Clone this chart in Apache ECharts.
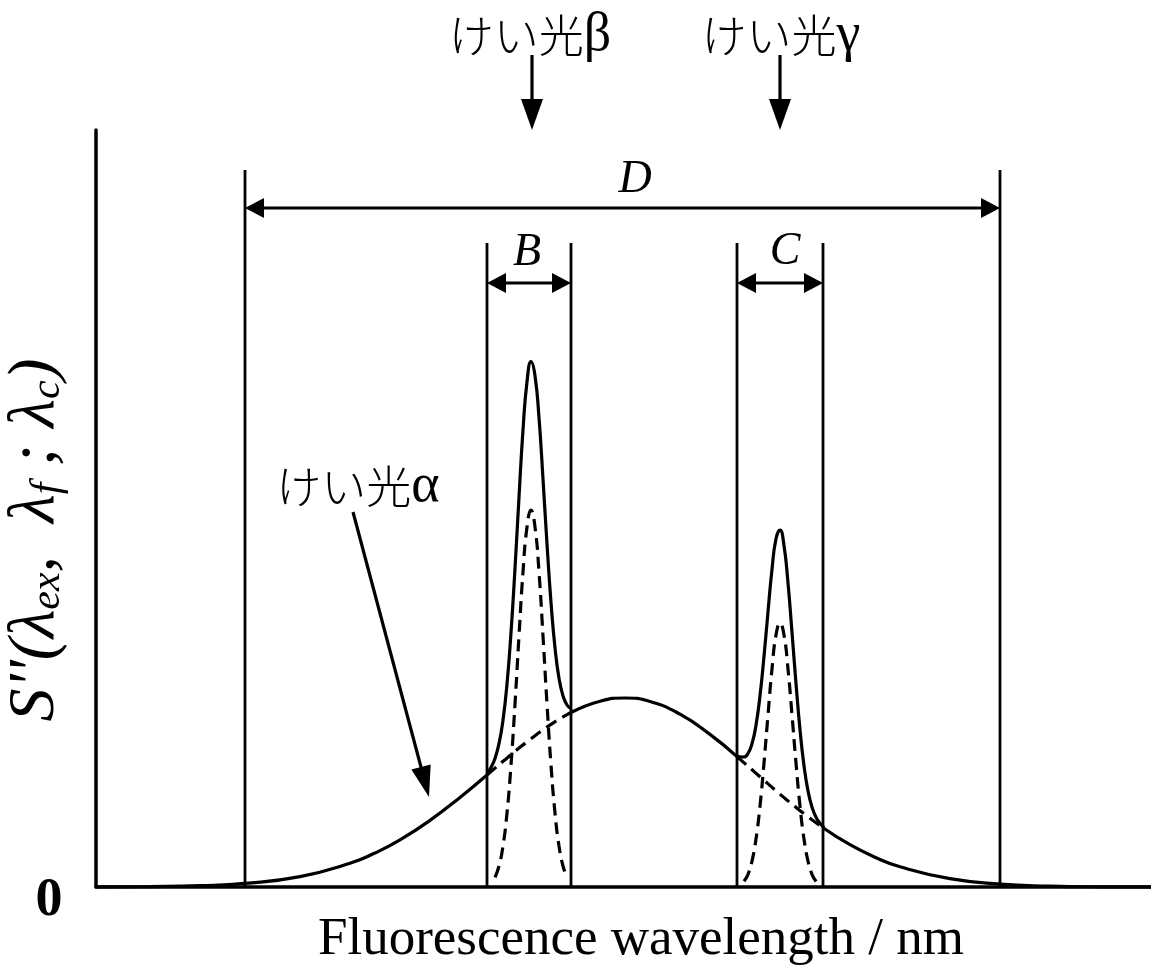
<!DOCTYPE html>
<html>
<head>
<meta charset="utf-8">
<script src="https://cdn.jsdelivr.net/npm/echarts@6/dist/echarts.min.js"></script>
<style>
html, body { margin: 0; padding: 0; background: #fff; }
#chart { width: 1151px; height: 970px; }
</style>
</head>
<body>
<div id="chart"></div>
<script>
// Broad emission band of fluorophore α (abscissa in plot units, ordinate in intensity units)
const alphaX = [0, 54, 104, 149, 204, 254, 279, 304, 334, 364, 391, 399, 407, 415, 423, 431, 439, 447, 455, 463, 471, 475,
  504, 529, 554, 584, 614, 641, 649, 659, 669, 679, 689, 699, 709, 719, 727, 754, 779, 804, 854, 904, 954, 1004, 1055];
const alphaY = [0.1, 0.4, 1.3, 3.6, 10.4, 23.7, 34, 47.1, 66.6, 89.6, 112.0, 118.9, 125.7, 132.3, 138.9, 145.2, 151.3, 157.2, 162.6, 167.7, 172.3, 174.5,
  185.8, 189, 185.5, 172.8, 152.6, 130.4, 123.4, 114.6, 105.8, 97.1, 88.6, 80.4, 72.5, 65.0, 59.3, 42.3, 29.8, 20.2, 8.3, 2.9, 0.9, 0.2, 0.05];

// Narrow band of fluorophore β
const betaX = [399, 403, 407, 411, 415, 419, 423, 427, 431, 435, 439, 443, 447, 451, 455, 459, 463, 467, 471];
const betaY = [9.7, 21, 41, 74, 122, 183, 251, 315, 360, 377, 360, 315, 251, 183, 122, 74, 41, 21, 9.7];

// Narrow band of fluorophore γ
const gammaX = [648, 652, 656, 660, 664, 668, 672, 676, 680, 684, 688, 692, 696, 700, 704, 708, 712, 716, 720, 724];
const gammaY = [5.7, 12.7, 25.9, 48, 81, 124, 172, 218, 252, 264, 252, 218, 172, 124, 81, 48, 25.9, 12.7, 5.7, 2.3];

// Observed spectrum inside window B (α + β)
const sumBX = [391, 395, 399, 403, 407, 411, 415, 419, 423, 427, 431, 435, 439, 443, 447, 451, 455, 459, 463, 467, 471, 475];
const sumBY = [113.6, 119.5, 128.6, 143.3, 166.7, 203, 254.3, 318.6, 389.9, 457.1, 505.2, 525.3, 511.3, 469.3, 408.2, 343,
  284.6, 239.2, 208.7, 191.1, 182, 178.5];

// Observed spectrum inside window C (α + γ)
const sumCX = [640, 644, 648, 652, 656, 660, 664, 668, 672, 676, 680, 684, 688, 692, 696, 700, 704, 708, 712, 716, 720, 724, 728];
const sumCY = [132.2, 130.1, 130, 133.5, 143.2, 161.8, 191.2, 230.7, 275.2, 317.7, 348.3, 356.8, 341.5, 304.1, 254.8, 203.6,
  157.4, 121.2, 96.1, 79.9, 69.9, 63.7, 59.5];

// Integration windows [start, end]
const windowB = [391, 475];
const windowC = [641, 727];
const windowD = [149, 904];

// Text drawn on the figure
const bandPrefix = 'けい光';
const bandLetters = ['α', 'β', 'γ'];
const windowLabels = ['B', 'C', 'D'];
const xTitle = 'Fluorescence wavelength / nm';
const zeroLabel = '0';

// Axis extents
const xMax = 1055;
const yMax = 757;

// Annotation placement (plot units)
const layout = {
  windowTopBC: 644, windowTopD: 717,
  spanBC: 604, spanD: 679,
  labelB: [431, 634], labelC: [689, 635], labelD: [539, 707],
  betaArrowX: 436, gammaArrowX: 684, arrowTail: 832, arrowTip: 757,
  betaLabel: [434, 851], gammaLabel: [685, 851],
  alphaLabel: [262, 400], alphaFrom: [257, 375], alphaTo: [333, 90]
};

const inside = (x, w) => x >= w[0] && x <= w[1];
function pairs(xs, ys, keep) {
  const out = [];
  for (let i = 0; i < xs.length; i++) {
    if (!keep || keep(xs[i])) out.push([xs[i], ys[i]]);
  }
  return out;
}

const solid = { color: '#000', width: 3.2, type: 'solid' };
const dashed = { color: '#000', width: 3.2, type: [12, 7] };

function line(data, style, z) {
  return {
    type: 'line', data: data, smooth: true, showSymbol: false, symbol: 'none',
    lineStyle: style, z: z, silent: true, clip: false
  };
}

const series = [
  // α outside the narrow windows (solid)
  line(pairs(alphaX, alphaY, x => x <= windowB[0]), solid, 5),
  line(pairs(alphaX, alphaY, x => x >= windowB[1] && x <= windowC[0]), solid, 5),
  line(pairs(alphaX, alphaY, x => x >= windowC[1]), solid, 5),
  // α inside the windows (dashed)
  line(pairs(alphaX, alphaY, x => inside(x, windowB)), dashed, 3),
  line(pairs(alphaX, alphaY, x => inside(x, windowC)), dashed, 3),
  // individual narrow bands (dashed)
  line(pairs(betaX, betaY), dashed, 3),
  line(pairs(gammaX, gammaY), dashed, 3),
  // summed spectra in windows (solid)
  line(pairs(sumBX, sumBY), solid, 5),
  line(pairs(sumCX, sumCY), solid, 5)
];

const option = {
  backgroundColor: '#fff',
  animation: false,
  grid: { left: 96, right: 0, top: 130, bottom: 83, containLabel: false },
  xAxis: {
    type: 'value', min: 0, max: xMax,
    axisLine: { show: true, onZero: false, lineStyle: { color: '#000', width: 3.5 } },
    axisTick: { show: false }, axisLabel: { show: false }, splitLine: { show: false }
  },
  yAxis: {
    type: 'value', min: 0, max: yMax,
    axisLine: { show: true, onZero: false, lineStyle: { color: '#000', width: 3.5 } },
    axisTick: { show: false }, axisLabel: { show: false }, splitLine: { show: false }
  },
  series: series
};

const chart = echarts.init(document.getElementById('chart'), null, { renderer: 'canvas' });
chart.setOption(option);

const P = (x, y) => chart.convertToPixel({ gridIndex: 0 }, [x, y]);
const graphics = [];

function seg(a, b, w) {
  graphics.push({
    type: 'line', z: 10, silent: true,
    shape: { x1: a[0], y1: a[1], x2: b[0], y2: b[1] },
    style: { stroke: '#000', lineWidth: w || 2.8 }
  });
}
function head(tip, from, len, half) {
  const dx = tip[0] - from[0], dy = tip[1] - from[1];
  const d = Math.hypot(dx, dy), ux = dx / d, uy = dy / d;
  const bx = tip[0] - ux * len, by = tip[1] - uy * len;
  graphics.push({
    type: 'polygon', z: 11, silent: true,
    shape: { points: [[tip[0], tip[1]], [bx - uy * half, by + ux * half], [bx + uy * half, by - ux * half]] },
    style: { fill: '#000' }
  });
}
function arrow(from, tip, len, half, w) {
  const dx = tip[0] - from[0], dy = tip[1] - from[1];
  const d = Math.hypot(dx, dy);
  const end = [tip[0] - dx / d * (len - 2), tip[1] - dy / d * (len - 2)];
  seg(from, end, w);
  head(tip, from, len, half);
}
function text(pos, str, style, rot) {
  graphics.push({
    type: 'text', z: 12, silent: true,
    x: pos[0], y: pos[1], rotation: rot || 0,
    style: Object.assign({ text: str, fill: '#000', align: 'center', verticalAlign: 'middle' }, style)
  });
}

// window boundaries
[[windowB, layout.windowTopBC], [windowC, layout.windowTopBC], [windowD, layout.windowTopD]].forEach(([w, top]) => {
  w.forEach(x => seg(P(x, 0), P(x, top), 2.8));
});

// double-headed span arrows
function span(w, y) {
  const a = P(w[0], y), b = P(w[1], y);
  seg([a[0] + 15, a[1]], [b[0] - 15, b[1]], 3.2);
  head(a, b, 19, 10);
  head(b, a, 19, 10);
}
span(windowB, layout.spanBC);
span(windowC, layout.spanBC);
span(windowD, layout.spanD);

const letterStyle = { fontFamily: '"Liberation Serif", serif', fontStyle: 'italic', fontSize: 46 };
text(P(layout.labelB[0], layout.labelB[1]), windowLabels[0], letterStyle);
text(P(layout.labelC[0], layout.labelC[1]), windowLabels[1], letterStyle);
text(P(layout.labelD[0], layout.labelD[1]), windowLabels[2], letterStyle);

// band markers: kana in the CJK face, Greek letter in the serif face
const bandRich = {
  k: { fontFamily: '"Noto Sans CJK JP", sans-serif', fontSize: 45, fontWeight: 300, lineHeight: 52, verticalAlign: 'middle' },
  g: { fontFamily: '"Liberation Serif", serif', fontSize: 54, lineHeight: 52, verticalAlign: 'middle' }
};
function bandText(pos, letter) {
  text(pos, '{k|' + bandPrefix + '}{g|' + letter + '}', { rich: bandRich });
}
arrow(P(layout.betaArrowX, layout.arrowTail), P(layout.betaArrowX, layout.arrowTip), 31, 11, 3.2);
arrow(P(layout.gammaArrowX, layout.arrowTail), P(layout.gammaArrowX, layout.arrowTip), 31, 11, 3.2);
bandText(P(layout.betaLabel[0], layout.betaLabel[1]), bandLetters[1]);
bandText(P(layout.gammaLabel[0], layout.gammaLabel[1]), bandLetters[2]);
bandText(P(layout.alphaLabel[0], layout.alphaLabel[1]), bandLetters[0]);
arrow(P(layout.alphaFrom[0], layout.alphaFrom[1]), P(layout.alphaTo[0], layout.alphaTo[1]), 31, 10, 3.2);

// axis texts
text([641, 940], xTitle, { fontFamily: '"Liberation Serif", serif', fontSize: 53 });
text([49, 901], zeroLabel, { fontFamily: '"Liberation Serif", serif', fontSize: 54, fontWeight: 'bold' });

graphics.push({
  type: 'text', z: 12, silent: true, x: 36, y: 540, rotation: Math.PI / 2,
  style: {
    text: "{m|S''(λ}{s|ex}{m|,  λ}{s|f}{m| ; λ}{s|c}{m|)}",
    fill: '#000', align: 'center', verticalAlign: 'middle',
    rich: {
      m: { fontFamily: '"Liberation Serif", serif', fontStyle: 'italic', fontSize: 66, lineHeight: 66, verticalAlign: 'middle' },
      s: { fontFamily: '"Liberation Serif", serif', fontStyle: 'italic', fontSize: 42, lineHeight: 66, verticalAlign: 'bottom' }
    }
  }
});

chart.setOption({ graphic: graphics });
</script>
</body>
</html>
